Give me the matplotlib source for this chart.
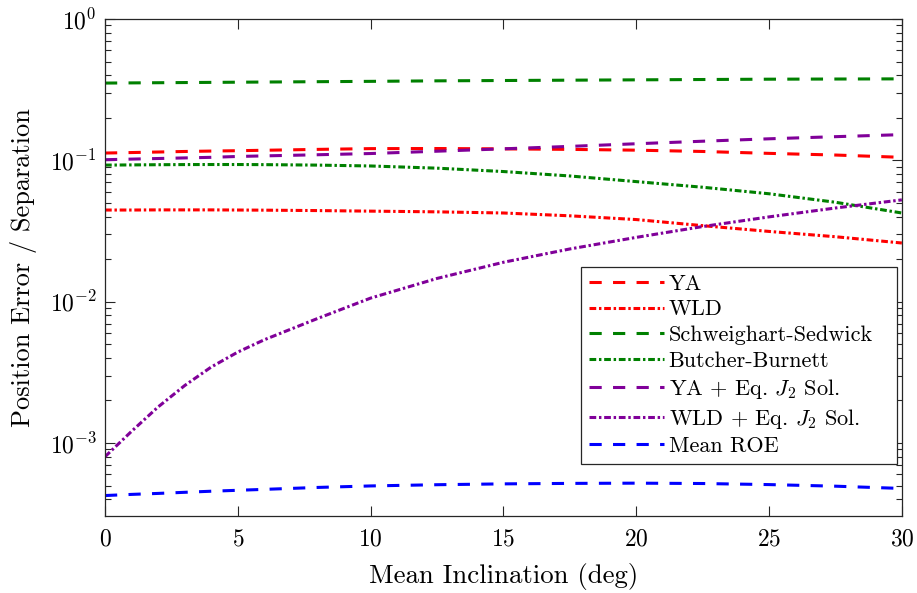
import matplotlib
matplotlib.use("Agg")
import matplotlib.pyplot as plt
from matplotlib.ticker import LogLocator, NullFormatter

plt.rcParams['font.family'] = 'cmr10'
plt.rcParams['mathtext.fontset'] = 'cm'
plt.rcParams['axes.formatter.use_mathtext'] = True

# mean inclination (deg)
incl = [0, 1, 2, 3, 4, 5, 6, 8, 10, 12.5, 15, 17.5, 20, 22.5, 25, 27.5, 30]

# normalized position error for each model
ya = [0.1126, 0.1135, 0.1145, 0.1155, 0.1163, 0.117, 0.1178, 0.1195, 0.121,
      0.1212, 0.1205, 0.1195, 0.118, 0.1155, 0.112, 0.109, 0.105]
wld = [0.0445, 0.0445, 0.0446, 0.0446, 0.0446, 0.0445, 0.0444, 0.0441, 0.0437,
       0.0432, 0.0424, 0.0405, 0.0381, 0.0345, 0.0314, 0.0288, 0.0260]
ss = [0.352, 0.353, 0.354, 0.355, 0.356, 0.357, 0.358, 0.360, 0.362, 0.365,
      0.367, 0.369, 0.371, 0.373, 0.375, 0.376, 0.377]
bb = [0.0925, 0.0928, 0.0931, 0.0933, 0.0934, 0.0934, 0.0932, 0.0925, 0.0912,
      0.0880, 0.0833, 0.0775, 0.0707, 0.0645, 0.0580, 0.0505, 0.0424]
ya_j2 = [0.101, 0.102, 0.103, 0.104, 0.105, 0.1065, 0.1075, 0.1095, 0.1117,
         0.116, 0.1206, 0.1255, 0.131, 0.1365, 0.142, 0.147, 0.152]
wld_j2 = [8.0e-4, 1.21e-3, 1.80e-3, 2.55e-3, 3.45e-3, 4.4e-3, 5.38e-3, 7.6e-3,
          0.0106, 0.0146, 0.0190, 0.0236, 0.0285, 0.0340, 0.0398, 0.0460, 0.0525]
mean_roe = [4.25e-4, 4.33e-4, 4.40e-4, 4.48e-4, 4.56e-4, 4.63e-4, 4.70e-4,
            4.85e-4, 4.97e-4, 5.07e-4, 5.14e-4, 5.18e-4, 5.20e-4, 5.17e-4,
            5.08e-4, 4.95e-4, 4.77e-4]

red = (1, 0, 0)
green = (0, 0.5, 0)
purple = (0.5, 0, 0.6)
blue = (0, 0, 1)
dash = (4, 3.7)
dashdot = (2.2, 0.9, 0.8, 0.9)
lw = 2.2

fig = plt.figure(figsize=(9.17, 5.93), dpi=100)
ax = fig.add_axes([0.1145, 0.130, 0.869, 0.838])

ax.plot(incl, ya, color=red, lw=lw, dashes=dash, label='YA')
ax.plot(incl, wld, color=red, lw=lw, dashes=dashdot, label='WLD')
ax.plot(incl, ss, color=green, lw=lw, dashes=dash, label='Schweighart-Sedwick')
ax.plot(incl, bb, color=green, lw=lw, dashes=dashdot, label='Butcher-Burnett')
ax.plot(incl, ya_j2, color=purple, lw=lw, dashes=dash, label='YA + Eq. $J_2$ Sol.')
ax.plot(incl, wld_j2, color=purple, lw=lw, dashes=dashdot, label='WLD + Eq. $J_2$ Sol.')
ax.plot(incl, mean_roe, color=blue, lw=lw, dashes=dash, label='Mean ROE')

ax.set_yscale('log')
ax.set_xlim(0, 30)
ax.set_ylim(3.05e-4, 1)
ax.set_xticks([0, 5, 10, 15, 20, 25, 30])
ax.yaxis.set_major_locator(LogLocator(base=10, numticks=10))
ax.yaxis.set_minor_locator(LogLocator(base=10, subs=range(2, 10), numticks=20))
ax.yaxis.set_minor_formatter(NullFormatter())

ax.tick_params(which='both', direction='in', top=True, right=True,
               labelsize=17, color='#262626')
ax.tick_params(axis='x', pad=9)
ax.tick_params(axis='y', pad=6)
ax.tick_params(which='major', length=7, width=0.8)
ax.tick_params(which='minor', length=4, width=0.8)
for s in ax.spines.values():
    s.set_linewidth(0.9)
    s.set_color('#262626')

ax.set_xlabel('Mean Inclination (deg)', fontsize=19.3, labelpad=9)
ax.set_ylabel('Position Error / Separation', fontsize=19, labelpad=9)

# legend stretched to a fixed width so the box has room on the right
leg = ax.legend(loc='lower left', bbox_to_anchor=(0.5972, 0.1046, 0.3965, 0.3),
                mode='expand', borderaxespad=0, fontsize=16, handlelength=3.4,
                handletextpad=0.2, labelspacing=0.27,
                fancybox=False, framealpha=1, borderpad=0.35)
leg.get_frame().set_edgecolor('#262626')
leg.get_frame().set_linewidth(0.9)

fig.savefig('out.png', dpi=100)
